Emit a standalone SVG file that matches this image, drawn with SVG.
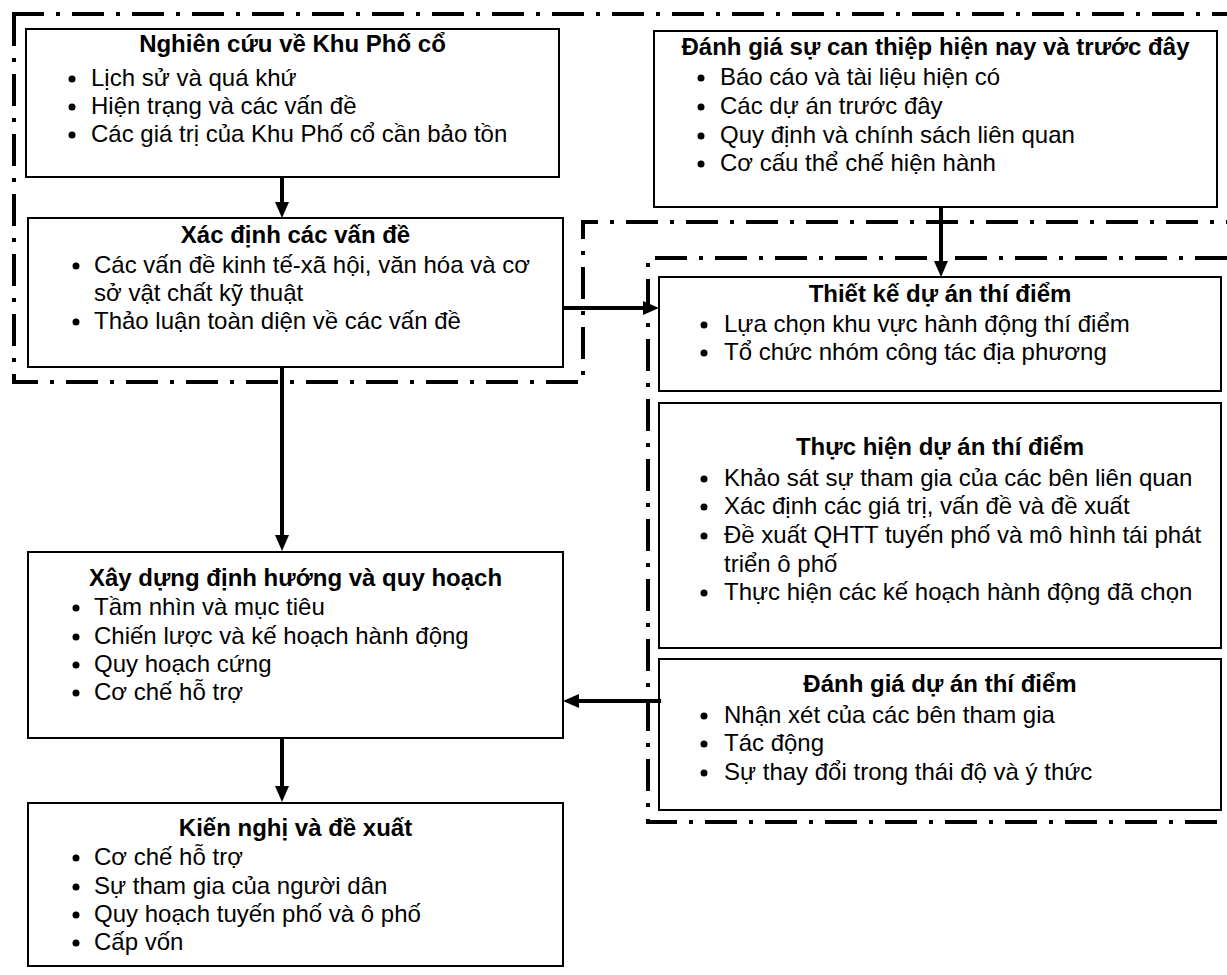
<svg xmlns="http://www.w3.org/2000/svg" width="1227" height="975" viewBox="0 0 1227 975">
<defs>
<style>
.box{fill:#fff;stroke:#000;stroke-width:2}
.t{font-family:"Liberation Sans",Arial,sans-serif;font-size:24px;fill:#000}
.h{font-weight:bold;text-anchor:middle}
.dot{fill:#000}
.dd{fill:none;stroke:#000;stroke-width:4;stroke-dasharray:32 12 4 12}
.ar{fill:none;stroke:#000;stroke-width:4;marker-end:url(#ah)}
</style>
<marker id="ah" markerUnits="userSpaceOnUse" markerWidth="16" markerHeight="14" refX="0" refY="7" orient="auto" overflow="visible">
<path d="M0,0 L16,7 L0,14 Z" fill="#000"/>
</marker>
</defs>
<rect width="1227" height="975" fill="#fff"/>

<g id="regions">
<path class="dd" d="M12,14 L1227,14"/>
<path class="dd" d="M14,14 L14,382 L583,382 L583,222 L1227,222"/>
<path class="dd" d="M1227,258 L648,258 L648,822 L1227,822"/>
</g>

<g id="n1">
<rect class="box" x="26" y="29" width="533" height="148"/>
<text class="t h" x="292.5" y="52">Nghiên cứu về Khu Phố cổ</text>
<circle class="dot" cx="72" cy="79" r="3.5"/><text class="t" x="91" y="86">Lịch sử và quá khứ</text>
<circle class="dot" cx="72" cy="107" r="3.5"/><text class="t" x="91" y="114">Hiện trạng và các vấn đề</text>
<circle class="dot" cx="72" cy="135" r="3.5"/><text class="t" x="91" y="142">Các giá trị của Khu Phố cổ cần bảo tồn</text>
</g>

<g id="n2">
<rect class="box" x="654" y="31" width="563" height="176"/>
<text class="t h" x="935.5" y="55">Đánh giá sự can thiệp hiện nay và trước đây</text>
<circle class="dot" cx="701" cy="78" r="3.5"/><text class="t" x="720" y="85">Báo cáo và tài liệu hiện có</text>
<circle class="dot" cx="701" cy="107" r="3.5"/><text class="t" x="720" y="114">Các dự án trước đây</text>
<circle class="dot" cx="701" cy="136" r="3.5"/><text class="t" x="720" y="143">Quy định và chính sách liên quan</text>
<circle class="dot" cx="701" cy="164" r="3.5"/><text class="t" x="720" y="171">Cơ cấu thể chế hiện hành</text>
</g>

<g id="n3">
<rect class="box" x="28" y="218" width="535" height="149"/>
<text class="t h" x="295.5" y="243">Xác định các vấn đề</text>
<circle class="dot" cx="76" cy="266" r="3.5"/><text class="t" x="94" y="273">Các vấn đề kinh tế-xã hội, văn hóa và cơ</text>
<text class="t" x="94" y="301">sở vật chất kỹ thuật</text>
<circle class="dot" cx="76" cy="322" r="3.5"/><text class="t" x="94" y="329">Thảo luận toàn diện về các vấn đề</text>
</g>

<g id="n4">
<rect class="box" x="659" y="277" width="562" height="114"/>
<text class="t h" x="940" y="302">Thiết kế dự án thí điểm</text>
<circle class="dot" cx="704" cy="325" r="3.5"/><text class="t" x="724" y="332">Lựa chọn khu vực hành động thí điểm</text>
<circle class="dot" cx="704" cy="353" r="3.5"/><text class="t" x="724" y="360">Tổ chức nhóm công tác địa phương</text>
</g>

<g id="n5">
<rect class="box" x="659" y="403" width="562" height="245"/>
<text class="t h" x="940" y="455">Thực hiện dự án thí điểm</text>
<circle class="dot" cx="704" cy="479" r="3.5"/><text class="t" x="724" y="486">Khảo sát sự tham gia của các bên liên quan</text>
<circle class="dot" cx="704" cy="507" r="3.5"/><text class="t" x="724" y="514">Xác định các giá trị, vấn đề và đề xuất</text>
<circle class="dot" cx="704" cy="536" r="3.5"/><text class="t" x="724" y="543">Đề xuất QHTT tuyến phố và mô hình tái phát</text>
<text class="t" x="724" y="572">triển ô phố</text>
<circle class="dot" cx="704" cy="593" r="3.5"/><text class="t" x="724" y="600">Thực hiện các kế hoạch hành động đã chọn</text>
</g>

<g id="n6">
<rect class="box" x="659" y="659" width="562" height="151"/>
<text class="t h" x="940" y="692">Đánh giá dự án thí điểm</text>
<circle class="dot" cx="704" cy="716" r="3.5"/><text class="t" x="724" y="723">Nhận xét của các bên tham gia</text>
<circle class="dot" cx="704" cy="744" r="3.5"/><text class="t" x="724" y="751">Tác động</text>
<circle class="dot" cx="704" cy="773" r="3.5"/><text class="t" x="724" y="780">Sự thay đổi trong thái độ và ý thức</text>
</g>

<g id="n7">
<rect class="box" x="28" y="552" width="535" height="186"/>
<text class="t h" x="295.5" y="586">Xây dựng định hướng và quy hoạch</text>
<circle class="dot" cx="76" cy="608" r="3.5"/><text class="t" x="94" y="615">Tầm nhìn và mục tiêu</text>
<circle class="dot" cx="76" cy="637" r="3.5"/><text class="t" x="94" y="644">Chiến lược và kế hoạch hành động</text>
<circle class="dot" cx="76" cy="665" r="3.5"/><text class="t" x="94" y="672">Quy hoạch cứng</text>
<circle class="dot" cx="76" cy="693" r="3.5"/><text class="t" x="94" y="700">Cơ chế hỗ trợ</text>
</g>

<g id="n8">
<rect class="box" x="28" y="803" width="535" height="163"/>
<text class="t h" x="295.5" y="836">Kiến nghị và đề xuất</text>
<circle class="dot" cx="76" cy="858" r="3.5"/><text class="t" x="94" y="865">Cơ chế hỗ trợ</text>
<circle class="dot" cx="76" cy="887" r="3.5"/><text class="t" x="94" y="894">Sự tham gia của người dân</text>
<circle class="dot" cx="76" cy="915" r="3.5"/><text class="t" x="94" y="922">Quy hoạch tuyến phố và ô phố</text>
<circle class="dot" cx="76" cy="943" r="3.5"/><text class="t" x="94" y="950">Cấp vốn</text>
</g>

<g id="connectors">
<line class="ar" x1="282" y1="177" x2="282" y2="202"/>
<line class="ar" x1="282" y1="367" x2="282" y2="535"/>
<line class="ar" x1="282" y1="738" x2="282" y2="786"/>
<line class="ar" x1="563" y1="308" x2="643" y2="308"/>
<line class="ar" x1="941" y1="207" x2="941" y2="261"/>
<line class="ar" x1="661" y1="701" x2="579" y2="701"/>
</g>
</svg>
